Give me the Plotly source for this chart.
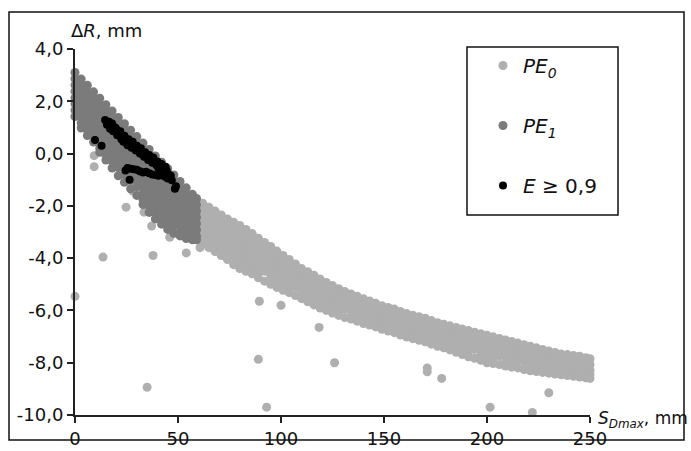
import plotly.graph_objects as go

# ---------------- data ----------------
# PE0: light grey band, one list of ΔR values per S column
pe0_s = [62, 65, 68, 71, 74, 77, 80, 83, 86, 89, 92, 95, 98, 101, 104, 107, 110,
         113, 116, 119, 122, 125, 128, 131, 134, 137, 140, 143, 146, 149, 152,
         155, 158, 161, 164, 167, 170, 173, 176, 179, 182, 185, 188, 191, 194,
         197, 200, 203, 206, 209, 212, 215, 218, 221, 224, 227, 230, 233, 236,
         239, 242, 245, 248, 250]
pe0_dr = [
    [-1.90, -2.12, -2.34, -2.56, -2.78, -3.00, -3.22, -3.45],
    [-2.05, -2.27, -2.49, -2.71, -2.93, -3.15, -3.38, -3.60],
    [-2.20, -2.42, -2.64, -2.86, -3.08, -3.30, -3.52, -3.75],
    [-2.35, -2.57, -2.79, -3.01, -3.23, -3.45, -3.67, -3.90],
    [-2.50, -2.72, -2.94, -3.16, -3.38, -3.60, -3.85, -4.05],
    [-2.63, -2.85, -3.07, -3.29, -3.51, -3.73, -3.95, -4.25],
    [-2.75, -2.97, -3.19, -3.41, -3.63, -3.85, -4.10, -4.40],
    [-2.90, -3.12, -3.34, -3.56, -3.78, -4.00, -4.25, -4.50],
    [-3.06, -3.28, -3.50, -3.72, -3.94, -4.16, -4.38, -4.60],
    [-3.24, -3.46, -3.68, -3.90, -4.12, -4.34, -4.55, -4.75],
    [-3.40, -3.62, -3.84, -4.06, -4.28, -4.50, -4.88],
    [-3.55, -3.77, -3.99, -4.21, -4.43, -4.65, -4.82, -5.00],
    [-3.73, -3.95, -4.17, -4.39, -4.61, -4.83, -5.12],
    [-3.90, -4.12, -4.34, -4.56, -4.78, -5.00, -5.23],
    [-4.05, -4.27, -4.49, -4.71, -4.93, -5.12, -5.32],
    [-4.22, -4.44, -4.66, -4.88, -5.10, -5.43],
    [-4.40, -4.62, -4.84, -5.06, -5.28, -5.55],
    [-4.52, -4.74, -4.96, -5.18, -5.40, -5.67],
    [-4.65, -4.87, -5.09, -5.31, -5.55, -5.79],
    [-4.80, -5.02, -5.24, -5.46, -5.68, -5.91],
    [-4.93, -5.15, -5.37, -5.59, -5.81, -6.00],
    [-5.05, -5.27, -5.49, -5.71, -5.90, -6.10],
    [-5.17, -5.39, -5.61, -5.83, -6.05, -6.19],
    [-5.28, -5.50, -5.72, -5.94, -6.27],
    [-5.37, -5.59, -5.81, -6.03, -6.33],
    [-5.46, -5.68, -5.90, -6.12, -6.41],
    [-5.55, -5.77, -5.99, -6.21, -6.50],
    [-5.64, -5.86, -6.08, -6.30, -6.56],
    [-5.73, -5.95, -6.17, -6.39, -6.63],
    [-5.82, -6.04, -6.26, -6.48, -6.72],
    [-5.89, -6.11, -6.33, -6.55, -6.79],
    [-5.95, -6.17, -6.39, -6.61, -6.85],
    [-6.04, -6.26, -6.48, -6.70, -6.94],
    [-6.12, -6.34, -6.56, -6.78, -7.02],
    [-6.18, -6.40, -6.62, -6.84, -7.08],
    [-6.24, -6.46, -6.68, -6.90, -7.14],
    [-6.30, -6.52, -6.74, -6.96, -7.20],
    [-6.39, -6.61, -6.83, -7.05, -7.29],
    [-6.47, -6.69, -6.91, -7.13, -7.37],
    [-6.53, -6.75, -6.97, -7.19, -7.43],
    [-6.59, -6.81, -7.03, -7.25, -7.51],
    [-6.65, -6.87, -7.09, -7.31, -7.60],
    [-6.71, -6.93, -7.15, -7.37, -7.55, -7.69],
    [-6.77, -6.99, -7.21, -7.43, -7.60, -7.77],
    [-6.83, -7.05, -7.27, -7.49, -7.83],
    [-6.89, -7.11, -7.33, -7.55, -7.73, -7.91],
    [-6.95, -7.17, -7.39, -7.61, -7.80, -8.00],
    [-7.01, -7.23, -7.45, -7.67, -7.85, -8.03],
    [-7.07, -7.29, -7.51, -7.73, -8.07],
    [-7.13, -7.35, -7.57, -7.79, -7.96, -8.13],
    [-7.19, -7.41, -7.63, -7.85, -8.01, -8.17],
    [-7.25, -7.47, -7.69, -7.91, -8.20],
    [-7.31, -7.53, -7.75, -7.97, -8.26],
    [-7.37, -7.59, -7.81, -8.03, -8.31],
    [-7.43, -7.65, -7.87, -8.09, -8.34],
    [-7.49, -7.71, -7.93, -8.15, -8.37],
    [-7.55, -7.77, -7.99, -8.21, -8.40],
    [-7.61, -7.83, -8.05, -8.27, -8.43],
    [-7.67, -7.89, -8.11, -8.33, -8.46],
    [-7.69, -7.91, -8.13, -8.35, -8.49],
    [-7.72, -7.94, -8.16, -8.38, -8.52],
    [-7.75, -7.97, -8.19, -8.41, -8.55],
    [-7.81, -8.03, -8.25, -8.47, -8.58],
    [-7.85, -8.07, -8.29, -8.45, -8.60],
]
# PE0 scattered single points
pe0_out_s = [0, 13.6, 35, 24.8, 33.5, 37.2, 37.9, 46, 54, 60.7, 9.3, 9.3, 28,
             89.5, 100, 89, 118.5, 126, 93, 171, 171, 178, 201.5, 222, 230]
pe0_out_dr = [-5.46, -3.96, -8.94, -2.05, -2.24, -2.77, -3.90, -3.20, -3.80, -3.60,
              -0.08, -0.50, -1.43, -5.65, -5.80, -7.87, -6.65, -8.00, -9.70,
              -8.20, -8.35, -8.60, -9.70, -9.90, -9.15]

# PE1: dark grey band, one list of ΔR values per S column
pe1_s = [0, 3, 6, 9, 12, 15, 18, 21, 24, 27, 30, 33, 36, 39, 42, 45, 48, 51, 54, 57, 59]
pe1_dr = [
    [3.10, 2.86, 2.62, 2.38, 2.14, 1.90, 1.66, 1.42],
    [2.85, 2.61, 2.37, 2.13, 1.89, 1.65, 1.41, 1.17, 0.98],
    [2.61, 2.37, 2.13, 1.89, 1.65, 1.41, 1.17, 0.93, 0.69],
    [2.36, 2.12, 1.88, 1.64, 1.40, 1.16, 0.92, 0.68, 0.44],
    [2.12, 1.88, 1.64, 1.40, 1.16, 0.92, 0.68, 0.44, 0.20, 0.05],
    [1.87, 1.63, 1.39, 1.15, 0.91, 0.67, 0.43, 0.19, -0.05, -0.25],
    [1.63, 1.39, 1.15, 0.91, 0.67, 0.43, 0.19, -0.05, -0.29, -0.55],
    [1.38, 1.14, 0.90, 0.66, 0.42, 0.18, -0.06, -0.30, -0.54, -0.85],
    [1.14, 0.90, 0.66, 0.42, 0.18, -0.06, -0.30, -0.54, -0.78, -1.10],
    [0.89, 0.65, 0.41, 0.17, -0.07, -0.31, -0.55, -0.79, -1.03, -1.35],
    [0.65, 0.41, 0.17, -0.07, -0.31, -0.55, -0.79, -1.03, -1.27, -1.60],
    [0.40, 0.16, -0.08, -0.32, -0.56, -0.80, -1.04, -1.28, -1.52, -1.76, -1.95],
    [0.16, -0.08, -0.32, -0.56, -0.80, -1.04, -1.28, -1.52, -1.76, -2.00, -2.25],
    [-0.09, -0.33, -0.57, -0.81, -1.05, -1.29, -1.53, -1.77, -2.01, -2.25, -2.50],
    [-0.33, -0.57, -0.81, -1.05, -1.29, -1.53, -1.77, -2.01, -2.25, -2.49, -2.70],
    [-0.58, -0.82, -1.06, -1.30, -1.54, -1.78, -2.02, -2.26, -2.50, -2.74, -2.90],
    [-0.82, -1.06, -1.30, -1.54, -1.78, -2.02, -2.26, -2.50, -2.74, -3.05],
    [-1.07, -1.31, -1.55, -1.79, -2.03, -2.27, -2.51, -2.75, -2.99, -3.15],
    [-1.31, -1.55, -1.79, -2.03, -2.27, -2.51, -2.75, -2.99, -3.25],
    [-1.56, -1.80, -2.04, -2.28, -2.52, -2.76, -3.00, -3.30],
    [-1.72, -1.96, -2.20, -2.44, -2.68, -2.92, -3.16, -3.30],
]

# E >= 0,9: black points
e_s = [9.7, 12.9, 14.6, 15.5, 16.5, 17, 18.5, 19.5, 20.5, 21.5, 22.5, 23.5, 24.5,
       25.5, 26.5, 27.5, 28.5, 29.5, 30.5, 31.5, 32.5, 33.5, 34.5, 35.5, 36.5,
       37.5, 38.5, 39.5, 40.5, 41.5, 42.5, 43.5, 44.5, 45.5, 46.5, 49, 48.5,
       24.5, 25.5, 27, 28.5, 30, 31.5, 33, 34.5, 36, 37.5, 39, 40.5, 42, 43.5, 26.5,
       18, 20, 22, 24, 26, 28, 30, 32, 34, 36, 38, 40, 42, 44, 45, 47]
e_dr = [0.52, 0.30, 1.28, 1.10, 1.22, 0.95, 0.85, 1.00, 0.70, 0.78, 0.55, 0.45, 0.52,
        0.32, 0.40, 0.22, 0.28, 0.12, 0.15, 0.00, -0.02, -0.12, -0.05, -0.25, -0.20,
        -0.35, -0.30, -0.45, -0.55, -0.50, -0.62, -0.70, -0.65, -0.80, -0.85, -1.25, -1.35,
        -0.65, -0.55, -0.58, -0.60, -0.62, -0.68, -0.72, -0.70, -0.75, -0.80, -0.82, -0.85,
        -0.82, -0.88, -1.00,
        1.15, 0.95, 0.85, 0.68, 0.55, 0.45, 0.30, 0.20, 0.05, -0.05, -0.15, -0.30,
        -0.40, -0.50, -0.95, -1.02]

x_ticks = [0, 50, 100, 150, 200, 250]
y_ticks = [4, 2, 0, -2, -4, -6, -8, -10]
y_ticktext = ["4,0", "2,0", "0,0", "-2,0", "-4,0", "-6,0", "-8,0", "-10,0"]

# ---------------- build ----------------
def flatten(cols_s, cols_dr):
    xs, ys = [], []
    for s, col in zip(cols_s, cols_dr):
        for v in col:
            xs.append(s)
            ys.append(v)
    return xs, ys

pe0_x, pe0_y = flatten(pe0_s, pe0_dr)
pe0_x += pe0_out_s
pe0_y += pe0_out_dr
pe1_x, pe1_y = flatten(pe1_s, pe1_dr)

FONT = "DejaVu Sans"
C0, C1, CE = "#afafaf", "#7b7b7b", "#000000"
MS = 9

fig = go.Figure()
fig.add_trace(go.Scatter(x=pe0_x, y=pe0_y, mode="markers", name="<i>PE<sub>0</sub></i>",
                         legendgroup="a", cliponaxis=False,
                         marker=dict(color=C0, size=MS, line=dict(width=0))))
fig.add_trace(go.Scatter(x=pe1_x, y=pe1_y, mode="markers", name="<i>PE<sub>1</sub></i>",
                         legendgroup="b", cliponaxis=False,
                         marker=dict(color=C1, size=MS, line=dict(width=0))))
fig.add_trace(go.Scatter(x=e_s, y=e_dr, mode="markers", name="<i>E</i> ≥ 0,9<sub> </sub>",
                         legendgroup="c", cliponaxis=False,
                         marker=dict(color=CE, size=MS - 1, line=dict(width=0))))

L, R, T, B = 75, 101, 49, 36
W, H = 691, 451
pw, ph = W - L - R, H - T - B

def px(x):
    return (x - L) / pw

def py(y):
    return (H - B - y) / ph

fig.update_layout(
    template="none",
    width=W, height=H,
    margin=dict(l=L, r=R, t=T, b=B, autoexpand=False),
    paper_bgcolor="white", plot_bgcolor="white",
    font=dict(family=FONT, size=18, color="#111111"),
    showlegend=True,
    hovermode=False,
    legend=dict(x=px(483), y=py(46), xanchor="left", yanchor="top",
                bgcolor="rgba(0,0,0,0)", borderwidth=0,
                font=dict(family=FONT, size=20, color="#111111"),
                tracegroupgap=31, itemsizing="trace"),
    xaxis=dict(range=[0, 250], tickvals=x_ticks, showgrid=False, zeroline=False,
               automargin=False,
               showline=True, linecolor="#222222", linewidth=2,
               ticks="outside", ticklen=6, tickwidth=2, tickcolor="#222222",
               tickfont=dict(family=FONT, size=18)),
    yaxis=dict(range=[-10, 4], tickvals=y_ticks, ticktext=y_ticktext,
               showgrid=False, zeroline=False, automargin=False,
               showline=True, linecolor="#222222", linewidth=2,
               ticks="outside", ticklen=6, tickwidth=2, tickcolor="#222222",
               tickfont=dict(family=FONT, size=18)),
    shapes=[
        dict(type="rect", xref="paper", yref="paper",
             x0=px(9), x1=px(684), y0=py(440), y1=py(12),
             line=dict(color="#111111", width=1.5)),
        dict(type="rect", xref="paper", yref="paper",
             x0=px(467), x1=px(618), y0=py(215), y1=py(47),
             line=dict(color="#111111", width=1.5)),
    ],
    annotations=[
        dict(text="Δ<i>R</i>, mm", xref="paper", yref="paper",
             x=px(69), y=py(30), xanchor="left", yanchor="middle",
             showarrow=False, font=dict(family=FONT, size=18)),
        dict(text="<i>S<sub>Dmax</sub></i>, mm", xref="paper", yref="paper",
             x=px(596), y=py(420), xanchor="left", yanchor="middle",
             showarrow=False, font=dict(family=FONT, size=17)),
    ],
)

fig.write_html("out.html",
               config={"displayModeBar": False, "staticPlot": True},
               post_script="document.body.style.margin='0';"
                           "document.body.style.overflow='hidden';")
